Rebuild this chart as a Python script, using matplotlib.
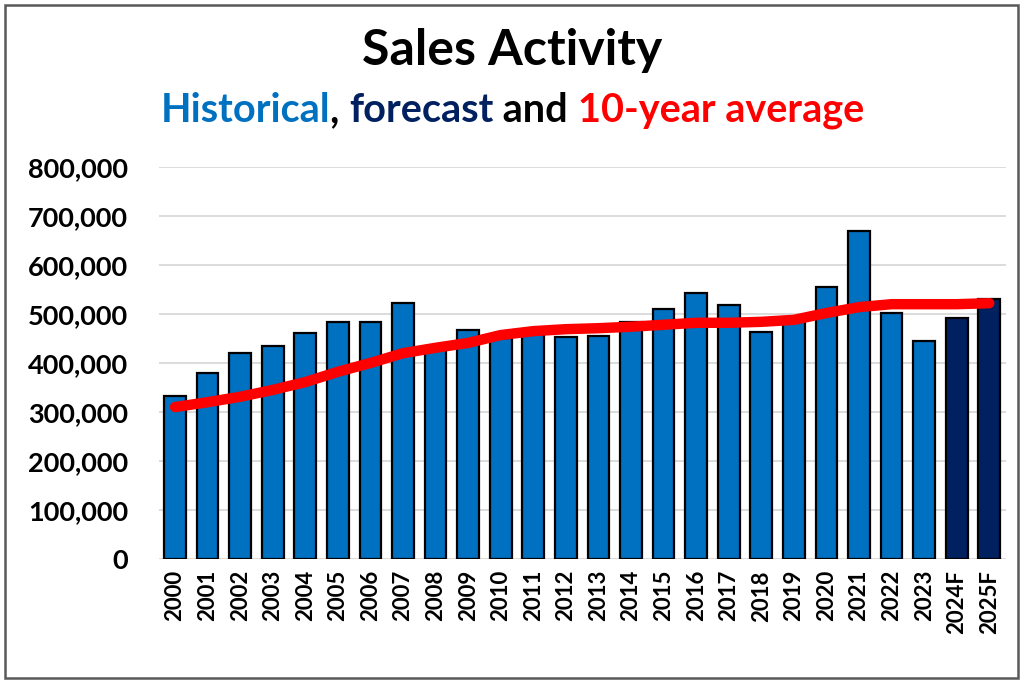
import numpy as np
import matplotlib.pyplot as plt
from matplotlib.patches import Rectangle

# Data
years = ['2000', '2001', '2002', '2003', '2004', '2005', '2006', '2007', '2008',
         '2009', '2010', '2011', '2012', '2013', '2014', '2015', '2016', '2017',
         '2018', '2019', '2020', '2021', '2022', '2023', '2024F', '2025F']
sales = [333000, 380000, 420000, 435000, 461000, 484000, 484000, 522000, 430000,
         467000, 451000, 460000, 453000, 455000, 484000, 510000, 543000, 518000,
         463000, 494000, 555000, 669000, 502000, 445000, 492000, 531000]
avg10 = [310000, 320000, 331000, 345000, 361000, 382000, 400000, 420000, 431000,
         441000, 457000, 465000, 469000, 471000, 474000, 478000, 482000, 482000,
         484000, 488000, 502000, 514000, 520000, 520000, 520000, 522000]
forecast = [False] * 24 + [True] * 2

hist_color = '#0070C0'
fc_color = '#002060'
avg_color = '#FF0000'

plt.rcParams['font.family'] = ['Lato', 'DejaVu Sans']

fig = plt.figure(figsize=(10.24, 6.83), dpi=100)
ax = fig.add_axes([0.155, 0.1816, 0.827, 0.5739])

x = np.arange(len(years))
colors = [fc_color if f else hist_color for f in forecast]
ax.bar(x, sales, width=0.67, color=colors, edgecolor='black', linewidth=1.6, zorder=2)
ax.plot(x, avg10, color=avg_color, linewidth=7.5, solid_capstyle='round',
        solid_joinstyle='round', zorder=3)

ax.set_xlim(-0.5, len(years) - 0.5)
ax.set_ylim(0, 800000)
ax.set_yticks(np.arange(0, 800001, 100000))
ax.set_yticklabels(['{:,}'.format(v) for v in range(0, 800001, 100000)],
                   fontsize=19.5, fontweight='bold')
ax.set_xticks(x)
ax.set_xticklabels(years, rotation=90, fontsize=16, fontweight='bold')
ax.tick_params(axis='y', length=0, pad=22)
ax.tick_params(axis='x', length=0, pad=8)
ax.grid(axis='y', color='#d9d9d9', linewidth=1.3, zorder=0)
ax.set_axisbelow(True)
for s in ax.spines.values():
    s.set_visible(False)

# Title and multi-coloured subtitle
fig.text(0.5, 0.926, 'Sales Activity', ha='center', va='center',
         fontsize=36, fontweight='bold')
parts = [('Historical', hist_color), (', ', 'black'), ('forecast', fc_color),
         (' and ', 'black'), ('10-year average', avg_color)]
renderer = fig.canvas.get_renderer()
texts = []
total = 0
for s, c in parts:
    t = fig.text(0, 0.838, s, color=c, fontsize=28.5, fontweight='bold',
                 va='center', ha='left')
    w = t.get_window_extent(renderer).width
    texts.append((t, w))
    total += w
xpos = 512 - total / 2
for t, w in texts:
    t.set_x(xpos / fig.bbox.width)
    xpos += w

# Outer frame
fig.patches.append(Rectangle((0.005, 0.008), 0.989, 0.984, transform=fig.transFigure,
                             fill=False, edgecolor='#595959', linewidth=1.8))

fig.savefig('out.png', dpi=100)
